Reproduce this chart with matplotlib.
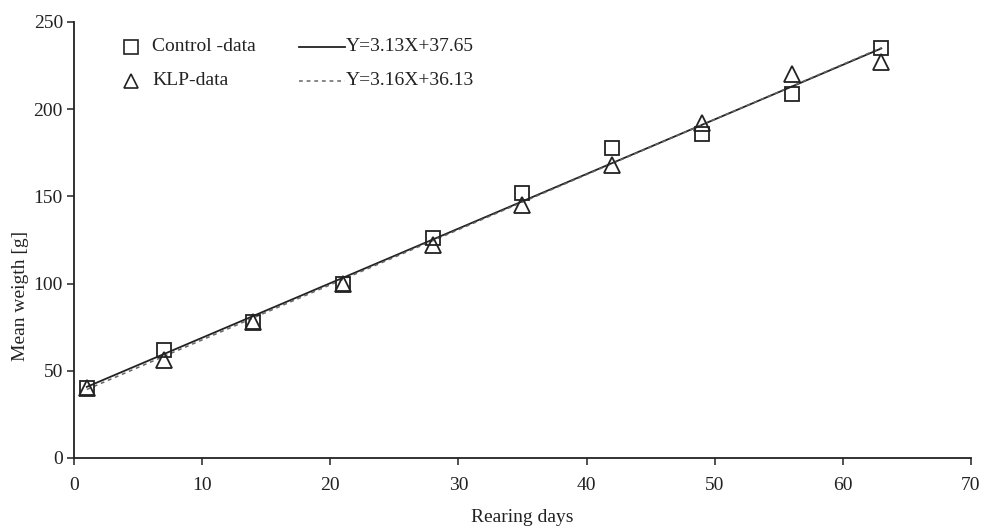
import matplotlib
matplotlib.use("Agg")
import matplotlib.pyplot as plt
import numpy as np
from matplotlib.lines import Line2D

days = [1, 7, 14, 21, 28, 35, 42, 49, 56, 63]
control = [40, 62, 78, 100, 126, 152, 178, 186, 209, 235]
klp = [40, 56, 78, 100, 122, 145, 168, 192, 220, 227]
control_fit = (3.13, 37.65)
klp_fit = (3.16, 36.13)
control_label = "Control -data"
klp_label = "KLP-data"
control_fit_label = "Y=3.13X+37.65"
klp_fit_label = "Y=3.16X+36.13"

plt.rcParams['font.family'] = ['Liberation Serif', 'DejaVu Serif']
plt.rcParams['font.size'] = 14

fig = plt.figure(figsize=(9.87, 5.29), dpi=100)
ax = fig.add_axes([74/987, 1-458/529, 897/987, 436/529])

x = np.array(days, dtype=float)
xf = np.array([x.min(), x.max()])
ax.plot(xf, control_fit[0]*xf + control_fit[1], color='#222222', lw=1.3, zorder=2)
ax.plot(xf, klp_fit[0]*xf + klp_fit[1], color='#666666', lw=1.1, ls=(0, (2.5, 2.5)), zorder=2)
ax.plot(days, control, ls='none', marker='s', ms=10.5, mfc='none', mec='#222222', mew=1.3, zorder=3)
ax.plot(days, klp, ls='none', marker='^', ms=11, mfc='none', mec='#222222', mew=1.3, zorder=3)

ax.set_xlim(0, 70)
ax.set_ylim(0, 250)
ax.set_xticks(range(0, 71, 10))
ax.set_yticks(range(0, 251, 50))
for s in ['top', 'right']:
    ax.spines[s].set_visible(False)
for s in ['left', 'bottom']:
    ax.spines[s].set_linewidth(1.3)
    ax.spines[s].set_color('#222222')
ax.tick_params(direction='out', length=5, width=1.1, colors='#222222', labelcolor='#222222')
ax.tick_params(axis='x', pad=9)
ax.tick_params(axis='y', pad=3)
ax.set_xlabel('Rearing days', color='#222222')
ax.xaxis.set_label_coords(0.5, -0.118)
ax.set_ylabel('Mean weigth [g]', color='#222222')
ax.yaxis.set_label_coords(-0.050, 0.372)

# legend (manual)
tr = ax.transAxes
ax.plot([0.0636], [0.943], marker='s', ms=9.5, mfc='none', mec='#222222', mew=1.2, transform=tr, clip_on=False)
ax.plot([0.0636], [0.865], marker='^', ms=10, mfc='none', mec='#222222', mew=1.2, transform=tr, clip_on=False)
ax.text(0.087, 0.943, control_label, transform=tr, va='center', ha='left', color='#222222')
ax.text(0.087, 0.865, klp_label, transform=tr, va='center', ha='left', color='#222222')
ax.add_line(Line2D([0.251, 0.302], [0.943, 0.943], transform=tr, color='#222222', lw=1.3))
ax.add_line(Line2D([0.251, 0.302], [0.865, 0.865], transform=tr, color='#666666', lw=1.1, ls=(0, (2.5, 2.5))))
ax.text(0.303, 0.943, control_fit_label, transform=tr, va='center', ha='left', color='#222222')
ax.text(0.303, 0.865, klp_fit_label, transform=tr, va='center', ha='left', color='#222222')

fig.savefig('out.png', dpi=100)
